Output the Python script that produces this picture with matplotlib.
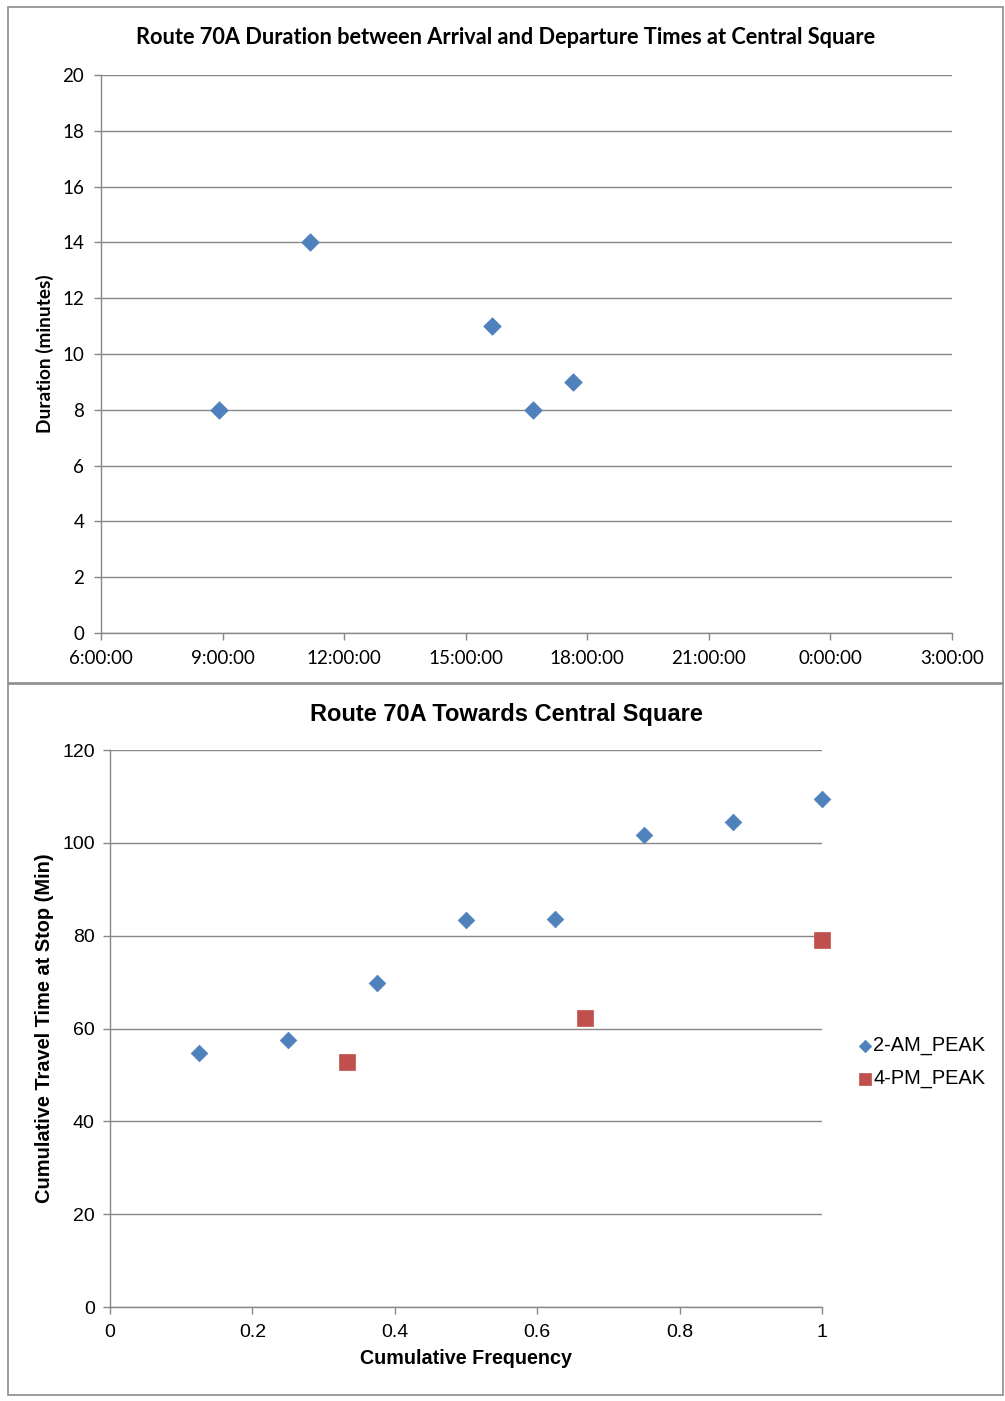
import matplotlib
matplotlib.use("Agg")
import matplotlib.pyplot as plt
from matplotlib.patches import Rectangle
from matplotlib.ticker import FixedLocator, FuncFormatter

# ---- Data: top chart (duration at Central Square) ----
arrival_times = ["8:55", "11:10", "15:39", "16:40", "17:39"]
durations_min = [8, 14, 11, 8, 9]
top_xticks_h = [6, 9, 12, 15, 18, 21, 24, 27]
top_yticks = [0, 2, 4, 6, 8, 10, 12, 14, 16, 18, 20]

# ---- Data: bottom chart (cumulative travel time) ----
am_freq = [0.125, 0.25, 0.375, 0.5, 0.625, 0.75, 0.875, 1.0]
am_time = [54.7, 57.5, 69.8, 83.4, 83.6, 101.7, 104.5, 109.4]
pm_freq = [0.333, 0.667, 1.0]
pm_time = [52.8, 62.3, 79.1]
bot_xticks = [0, 0.2, 0.4, 0.6, 0.8, 1]
bot_yticks = [0, 20, 40, 60, 80, 100, 120]

BLUE = "#4F81BD"
RED = "#C0504D"
GRID = "#878787"
AXC = "#878787"
CAL = ["Lato", "DejaVu Sans"]
ARI = ["Liberation Sans", "DejaVu Sans"]

def to_hours(s):
    h, m = s.split(":")
    return int(h) + int(m) / 60.0

W, H = 1005, 1401
fig = plt.figure(figsize=(W / 100, H / 100), dpi=100)

def fx(px):
    return px / W

def fy(py):
    return 1 - py / H

# panel borders
for (x0, y0, x1, y1) in [(8, 7, 1003, 683), (8, 684, 1003, 1395)]:
    fig.patches.append(Rectangle((fx(x0), fy(y1)), fx(x1) - fx(x0), fy(y0) - fy(y1),
                                 transform=fig.transFigure, fill=False,
                                 edgecolor="#8c8c8c", linewidth=1.2))

def style_axes(ax):
    for s in ["top", "right"]:
        ax.spines[s].set_visible(False)
    for s in ["left", "bottom"]:
        ax.spines[s].set_color(AXC)
        ax.spines[s].set_linewidth(1.0)
    ax.tick_params(axis="both", direction="out", length=5, width=1, color=AXC)
    ax.grid(axis="y", color=GRID, linewidth=1.0)
    ax.set_axisbelow(True)

# ---- top axes ----
ax1 = fig.add_axes([fx(101), fy(633), fx(952) - fx(101), fy(75) - fy(633)])
style_axes(ax1)
xh = [to_hours(t) for t in arrival_times]
ax1.scatter(xh, durations_min, marker="D", s=80, color=BLUE, edgecolors=BLUE,
            linewidths=0.5, zorder=3, clip_on=False)
ax1.set_xlim(6, 27)
ax1.set_ylim(0, 20)
ax1.xaxis.set_major_locator(FixedLocator(top_xticks_h))
ax1.xaxis.set_major_formatter(FuncFormatter(lambda v, p: f"{int(round(v)) % 24}:00:00"))
ax1.yaxis.set_major_locator(FixedLocator(top_yticks))
for lab in ax1.get_xticklabels() + ax1.get_yticklabels():
    lab.set_family(CAL)
    lab.set_fontsize(13.5)
ax1.tick_params(axis="x", pad=7)
ax1.tick_params(axis="y", pad=7)
fig.text(fx(506), fy(37), "Route 70A Duration between Arrival and Departure Times at Central Square",
         ha="center", va="center", family=CAL, fontweight="bold", fontsize=15.7)
fig.text(fx(45), fy(354), "Duration (minutes)", rotation=90, ha="center", va="center",
         family=CAL, fontweight="bold", fontsize=13.7)

# ---- bottom axes ----
ax2 = fig.add_axes([fx(110), fy(1307), fx(822) - fx(110), fy(750) - fy(1307)])
style_axes(ax2)
ax2.scatter(am_freq, am_time, marker="D", s=72, color=BLUE, edgecolors=BLUE,
            linewidths=0.5, zorder=3, clip_on=False, label="2-AM_PEAK")
ax2.scatter(pm_freq, pm_time, marker="s", s=130, color=RED, edgecolors=RED,
            linewidths=0.5, zorder=3, clip_on=False, label="4-PM_PEAK")
ax2.set_xlim(0, 1)
ax2.set_ylim(0, 120)
ax2.xaxis.set_major_locator(FixedLocator(bot_xticks))
ax2.xaxis.set_major_formatter(FuncFormatter(lambda v, p: f"{v:g}"))
ax2.yaxis.set_major_locator(FixedLocator(bot_yticks))
for lab in ax2.get_xticklabels() + ax2.get_yticklabels():
    lab.set_family(ARI)
    lab.set_fontsize(14)
ax2.tick_params(axis="x", pad=7)
ax2.tick_params(axis="y", pad=6)
fig.text(fx(506), fy(714), "Route 70A Towards Central Square", ha="center", va="center",
         family=ARI, fontweight="bold", fontsize=17)
fig.text(fx(44), fy(1028), "Cumulative Travel Time at Stop (Min)", rotation=90,
         ha="center", va="center", family=ARI, fontweight="bold", fontsize=14.4)
fig.text(fx(466), fy(1359), "Cumulative Frequency", ha="center", va="center",
         family=ARI, fontweight="bold", fontsize=14.2)

leg = ax2.legend(loc="center left", bbox_to_anchor=(fx(858), fy(1062)),
                 bbox_transform=fig.transFigure, frameon=False,
                 prop={"family": ARI, "size": 14.4}, handletextpad=0.05,
                 handlelength=0.7, labelspacing=0.7, markerscale=0.75,
                 borderaxespad=0, borderpad=0)

fig.savefig("out.png", dpi=100, facecolor="white")
